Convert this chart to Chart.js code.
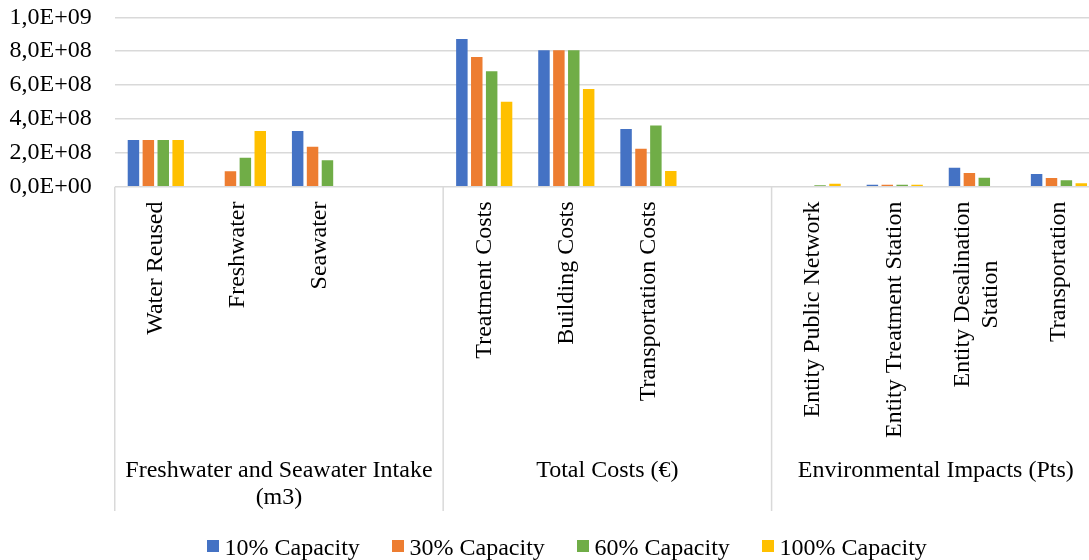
<!DOCTYPE html>
<html>
<head>
<meta charset="utf-8">
<title>Capacity scenarios</title>
<script src="https://cdn.jsdelivr.net/npm/chart.js@4.4.1/dist/chart.umd.min.js"></script>
<style>
  html, body { margin: 0; padding: 0; background: #ffffff; overflow: hidden; }
  #wrap { width: 1089px; height: 560px; overflow: hidden; }
  canvas { display: block; }
</style>
</head>
<body>
<div id="wrap"><canvas id="chart" width="1100" height="560"></canvas></div>
<script>
// Category slots (empty strings keep the spacer slot at the end of a group)
const categories = [
  "Water Reused", "Freshwater", "Seawater", "",
  "Treatment Costs", "Building Costs", "Transportation Costs", "",
  "Entity Public Network", "Entity Treatment Station", ["Entity Desalination", "Station"], "Transportation"
];

// Group captions and the slot range each one covers
const groupLabels = [["Freshwater and Seawater Intake", "(m3)"], ["Total Costs (€)"], ["Environmental Impacts (Pts)"]];
const groupStart = [0, 4, 8];
const groupEnd = [3, 7, 11];

// Series
const seriesNames = ["10% Capacity", "30% Capacity", "60% Capacity", "100% Capacity"];
const cap10  = [2.76e8, 0,      3.29e8, null, 8.72e8, 8.05e8, 3.41e8, null, 0,     1.1e7, 1.12e8, 7.5e7];
const cap30  = [2.76e8, 9.1e7,  2.36e8, null, 7.66e8, 8.05e8, 2.24e8, null, 4e6,   1.1e7, 8.1e7,  5.1e7];
const cap60  = [2.76e8, 1.71e8, 1.56e8, null, 6.81e8, 8.05e8, 3.62e8, null, 8e6,   1.1e7, 5.3e7,  3.8e7];
const cap100 = [2.76e8, 3.29e8, 0,      null, 5.02e8, 5.77e8, 9.3e7,  null, 1.7e7, 1.1e7, 0,      2.0e7];

// Value axis
const yMin = 0;
const yMax = 1e9;
const yStep = 2e8;

const seriesColors = ["#4472C4", "#ED7D31", "#70AD47", "#FFC000"];
const FONT = '"Liberation Serif", "Times New Roman", serif';
const GRID = "#d9d9d9";

function sciLabel(v) {
  if (v === 0) return "0,0E+00";
  const e = Math.floor(Math.log10(Math.abs(v)) + 1e-9);
  const m = v / Math.pow(10, e);
  return m.toFixed(1).replace(".", ",") + "E+" + String(e).padStart(2, "0");
}

// Draws the two-level category axis underneath the plot and the legend
const categoryAxisPlugin = {
  id: "categoryAxis",
  afterDraw(chart) {
    const ctx = chart.ctx;
    const xs = chart.scales.x;
    const n = categories.length;
    const slot = (xs.right - xs.left) / n;
    const top = chart.chartArea.bottom;
    const lineBottom = 511;

    ctx.save();
    // group separators
    ctx.strokeStyle = GRID;
    ctx.lineWidth = 1.5;
    const edges = [];
    groupStart.forEach((s) => edges.push(xs.getPixelForValue(s) - slot / 2));
    edges.push(xs.getPixelForValue(groupEnd[groupEnd.length - 1]) + slot / 2);
    edges.forEach((ex) => {
      ctx.beginPath();
      ctx.moveTo(ex, top);
      ctx.lineTo(ex, lineBottom);
      ctx.stroke();
    });

    // rotated category names
    ctx.fillStyle = "#000000";
    ctx.font = "24px " + FONT;
    ctx.textBaseline = "middle";
    const lineH = 28;
    categories.forEach((lab, i) => {
      const lines = Array.isArray(lab) ? lab : [lab];
      if (!lines.join("")) return;
      const cx = xs.getPixelForValue(i);
      const widths = lines.map((t) => ctx.measureText(t).width);
      const maxW = Math.max.apply(null, widths);
      ctx.save();
      ctx.translate(cx, 201.5);
      ctx.rotate(-Math.PI / 2);
      ctx.textAlign = "center";
      lines.forEach((t, k) => {
        const off = (k - (lines.length - 1) / 2) * lineH;
        ctx.fillText(t, -maxW / 2, off);
      });
      ctx.restore();
    });

    // group captions
    ctx.textAlign = "center";
    ctx.textBaseline = "alphabetic";
    groupLabels.forEach((lines, g) => {
      const x0 = xs.getPixelForValue(groupStart[g]) - slot / 2;
      const x1 = xs.getPixelForValue(groupEnd[g]) + slot / 2;
      lines.forEach((t, k) => ctx.fillText(t, (x0 + x1) / 2, 477 + k * 27));
    });

    // legend
    const markX = [207, 392, 577, 762];
    chart.data.datasets.forEach((ds, i) => {
      ctx.fillStyle = ds.backgroundColor;
      ctx.fillRect(markX[i], 540, 12, 12);
      ctx.fillStyle = "#000000";
      ctx.textAlign = "left";
      ctx.fillText(ds.label, markX[i] + 17.5, 554.5);
    });
    ctx.restore();
  }
};

const seriesData = [cap10, cap30, cap60, cap100];

new Chart(document.getElementById("chart"), {
  type: "bar",
  data: {
    labels: categories,
    datasets: seriesNames.map((name, i) => ({
      label: name,
      data: seriesData[i],
      backgroundColor: seriesColors[i],
      borderWidth: 0,
      categoryPercentage: 0.726,
      barPercentage: 0.77
    }))
  },
  options: {
    responsive: false,
    devicePixelRatio: 1,
    animation: false,
    layout: { padding: { top: 17.3, left: 0, right: 0, bottom: 0 } },
    plugins: {
      legend: { display: false },
      tooltip: { enabled: false }
    },
    scales: {
      x: {
        type: "category",
        offset: true,
        ticks: { display: false },
        grid: { display: false },
        border: { display: false },
        afterFit(scale) { scale.height = 373.3; }
      },
      y: {
        min: yMin,
        max: yMax,
        ticks: {
          stepSize: yStep,
          autoSkip: false,
          padding: 0,
          color: "#000000",
          font: { family: FONT, size: 24 },
          callback: (v) => sciLabel(v)
        },
        grid: {
          color: GRID,
          lineWidth: 1.5,
          drawTicks: true,
          tickLength: 23,
          tickColor: "rgba(0,0,0,0)"
        },
        border: { display: false },
        afterFit(scale) { scale.width = 114.75; }
      }
    }
  },
  plugins: [categoryAxisPlugin]
});
</script>
</body>
</html>
